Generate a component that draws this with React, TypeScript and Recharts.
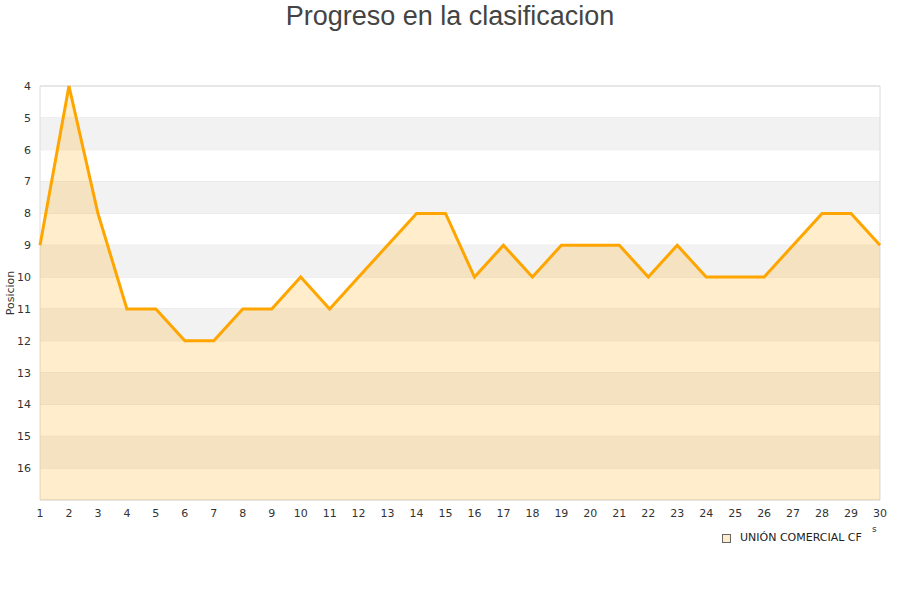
import { AreaChart, Area, XAxis, YAxis, CartesianGrid, ReferenceArea } from 'recharts';

const jornadas = [1, 2, 3, 4, 5, 6, 7, 8, 9, 10, 11, 12, 13, 14, 15, 16, 17, 18, 19, 20, 21, 22, 23, 24, 25, 26, 27, 28, 29, 30];
const posiciones = [9, 4, 8, 11, 11, 12, 12, 11, 11, 10, 11, 10, 9, 8, 8, 10, 9, 10, 9, 9, 9, 10, 9, 10, 10, 10, 9, 8, 8, 9];
const yTicks = [4, 5, 6, 7, 8, 9, 10, 11, 12, 13, 14, 15, 16];
const bandas: [number, number][] = [[5, 6], [7, 8], [9, 10], [11, 12], [13, 14], [15, 16]];
const equipo = 'UNIÓN COMERCIAL CF';

const data = jornadas.map((j, i) => ({ jornada: j, pos: posiciones[i] }));

const EjeLabel = (props: any) => {
  const vb = props.viewBox || { y: 86, height: 414 };
  const cy = vb.y + vb.height / 2;
  return (
    <text x={14} y={cy} transform={`rotate(-90 14 ${cy})`} textAnchor="middle" fill="#333" fontSize={11} fontFamily="DejaVu Sans">
      Posicion
    </text>
  );
};

export default function App() {
  return (
    <div style={{ position: 'absolute', left: 0, top: 0, width: 900, height: 600, background: '#fff' }}>
      <div
        style={{
          position: 'absolute', top: 0, left: 0, width: 900, textAlign: 'center',
          fontFamily: 'Liberation Sans, Arial, sans-serif', fontSize: 27, color: '#444', lineHeight: '32px',
        }}
      >
        Progreso en la clasificacion
      </div>
      <AreaChart width={900} height={600} data={data} margin={{ top: 86, right: 20, bottom: 70, left: 0 }}>
        {bandas.map(([a, b]) => (
          <ReferenceArea key={a} y1={a} y2={b} fill="#f2f2f2" fillOpacity={1} stroke="none" />
        ))}
        <CartesianGrid vertical={false} stroke="#e2e2e2" />
        <ReferenceArea x1={1} x2={30} y1={4} y2={17} fill="none" stroke="#dcdcdc" />
        <XAxis
          dataKey="jornada" type="number" domain={[1, 30]} ticks={jornadas} interval={0}
          height={30} axisLine={false} tickLine={false} tickMargin={3}
          tick={{ fill: '#333', fontSize: 11, fontFamily: 'DejaVu Sans' }}
        />
        <YAxis
          reversed domain={[4, 17]} ticks={yTicks} interval={0} width={40}
          axisLine={false} tickLine={false} tickMargin={3}
          tick={{ fill: '#333', fontSize: 11, fontFamily: 'DejaVu Sans' }}
          label={<EjeLabel />}
        />
        <Area
          type="linear" dataKey="pos" baseValue={17} stroke="#ffa500" strokeWidth={3}
          fill="#ffa500" fillOpacity={0.2} dot={false} activeDot={false} isAnimationActive={false}
        />
      </AreaChart>
      <div style={{ position: 'absolute', left: 722, top: 534, width: 7, height: 7, background: '#feecce', border: '1px solid #666' }} />
      <div
        style={{
          position: 'absolute', left: 740, top: 530, fontFamily: 'DejaVu Sans', fontSize: 11, color: '#222', lineHeight: '16px',
        }}
      >
        {equipo}
      </div>
      <div style={{ position: 'absolute', left: 872, top: 524, fontFamily: 'DejaVu Sans', fontSize: 9, color: '#333' }}>s</div>
    </div>
  );
}
